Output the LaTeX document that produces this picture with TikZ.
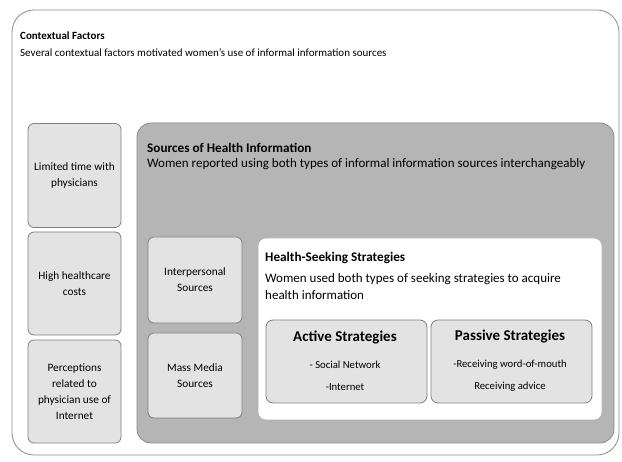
\documentclass[tikz,border=0pt]{standalone}
\usepackage{fontspec}
\setmainfont{Carlito}
\begin{document}
\begin{tikzpicture}[x=1pt,y=-1pt,
  outer/.style={draw=black!45, line width=0.8pt, rounded corners=22pt, fill=white},
  small/.style={draw=black!50, line width=0.8pt, rounded corners=6pt, fill=black!11, align=center, font=\fontsize{11.3}{16}\selectfont},
  grayb/.style={draw=black!45, line width=0.8pt, rounded corners=14pt, fill=black!29},
  whiteb/.style={draw=black!30, line width=0.6pt, rounded corners=8pt, fill=white},
  strat/.style={draw=black!50, line width=0.8pt, rounded corners=7pt, fill=black!11},
  ttl/.style={anchor=west, inner sep=0pt, font=\bfseries\fontsize{11}{12}\selectfont},
  sub/.style={anchor=west, inner sep=0pt, font=\fontsize{11}{12}\selectfont},
  bigttl/.style={anchor=west, inner sep=0pt, font=\bfseries\fontsize{13.2}{16}\selectfont},
  bigsub/.style={anchor=west, inner sep=0pt, font=\fontsize{13}{17}\selectfont},
  stttl/.style={font=\bfseries\fontsize{15}{17}\selectfont},
  stitems/.style={align=center, font=\fontsize{10.7}{22}\selectfont}
]
\useasboundingbox (0,0) rectangle (622,462);
\fill[white] (0,0) rectangle (622,462);
\draw[outer] (12,10) rectangle (619,455);
\node[ttl] (ctitle) at (20,36) {Contextual Factors};
\node[sub] (csub) at (20,53) {Several contextual factors motivated women’s use of informal information sources};

\node[small, minimum width=93pt, minimum height=104pt] (f1) at (74.5,175.5) {Limited time with\\physicians};
\node[small, minimum width=93pt, minimum height=103pt] (f2) at (74.5,283.5) {High healthcare\\costs};
\node[small, minimum width=93pt, minimum height=103pt] (f3) at (74.5,391.5) {Perceptions\\related to\\physician use of\\Internet};

\draw[grayb] (137,123) rectangle (614,443);
\node[bigttl] (stitle) at (147,148) {Sources of Health Information};
\node[bigsub] (ssub) at (147,164) {Women reported using both types of informal information sources interchangeably};

\node[small, minimum width=94pt, minimum height=86pt] (s1) at (195,280) {Interpersonal\\Sources};
\node[small, minimum width=94pt, minimum height=85pt] (s2) at (195,375.5) {Mass Media\\Sources};

\draw[whiteb] (258,238) rectangle (602,420);
\node[bigttl] (htitle) at (265,258) {Health-Seeking Strategies};
\node[bigsub, align=left, anchor=north west] (hsub) at (265,273) {Women used both types of seeking strategies to acquire\\health information};

\draw[strat] (266,320) rectangle (427,403);
\node[stttl] (atitle) at (345,337) {Active Strategies};
\node[stitems] (aitems) at (345,376) {- Social Network\\-Internet};

\draw[strat] (431,320) rectangle (592,403);
\node[stttl] (ptitle) at (510,337) {Passive Strategies};
\node[stitems] (pitems) at (510,376) {-Receiving word-of-mouth\\Receiving advice};
\end{tikzpicture}
\end{document}
